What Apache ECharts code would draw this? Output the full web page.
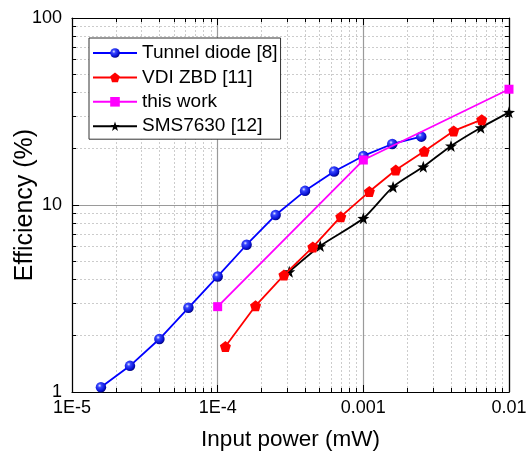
<!DOCTYPE html>
<html><head><meta charset="utf-8">
<script src="https://cdn.jsdelivr.net/npm/echarts@6/dist/echarts.min.js"></script>
<style>html,body{margin:0;padding:0;background:#fff}#c{width:530px;height:452px}</style>
</head><body><div id="c"></div>
<script>
// ---- data ----
const tunnelX = [1.58e-5, 2.5e-5, 3.98e-5, 6.3e-5, 1e-4, 1.58e-4, 2.5e-4, 3.98e-4, 6.3e-4, 1e-3, 1.58e-3, 2.5e-3];
const tunnelY = [1.06, 1.38, 1.92, 2.82, 4.15, 6.13, 8.84, 11.9, 15.1, 18.3, 21.2, 23.2];
const vdiX = [1.13e-4, 1.82e-4, 2.85e-4, 4.5e-4, 7e-4, 1.1e-3, 1.67e-3, 2.62e-3, 4.17e-3, 6.5e-3];
const vdiY = [1.75, 2.89, 4.22, 5.96, 8.66, 11.8, 15.4, 19.4, 24.9, 28.6];
const thisX = [1e-4, 1e-3, 1e-2];
const thisY = [2.86, 17.4, 41.6];
const smsX = [3.1e-4, 5.06e-4, 1e-3, 1.6e-3, 2.58e-3, 4e-3, 6.4e-3, 1e-2];
const smsY = [4.4, 6.04, 8.49, 12.5, 16.0, 20.7, 25.9, 31.3];
const seriesNames = ['Tunnel diode [8]', 'VDI ZBD [11]', 'this work', 'SMS7630 [12]'];
const xTickLabels = ['1E-5', '1E-4', '0.001', '0.01'];
const yTickLabels = ['1', '10', '100'];
const xTitle = 'Input power (mW)';
const yTitle = 'Efficiency (%)';

const X_MIN = 1e-5, X_MAX = 1e-2, Y_MIN = 1, Y_MAX = 100;
function minorVals(lo, hi) {
  const out = [];
  for (let d = lo; d < hi; d *= 10) for (let k = 2; k <= 9; k++) out.push(d * k);
  return out;
}
const xMinor = minorVals(X_MIN, X_MAX);
const yMinor = minorVals(Y_MIN, Y_MAX);
const zip = (a, b) => a.map((v, i) => [v, b[i]]);

const FONT = '"Liberation Sans", Arial, sans-serif';
const axisLineStyle = { show: true, onZero: false, lineStyle: { color: '#000', width: 1.2 } };

function xAxisDef(pos, minor, labels) {
  return {
    type: 'log', logBase: 10, min: X_MIN, max: X_MAX, position: pos,
    axisLine: minor ? { show: false } : axisLineStyle,
    axisTick: minor ? { show: true, inside: true, length: 4, customValues: xMinor, lineStyle: { color: '#000' } }
                    : { show: true, inside: true, length: 7, lineStyle: { color: '#000' } },
    axisLabel: labels ? {
      show: true, fontSize: 18, color: '#000', fontFamily: FONT, margin: 7,
      formatter: v => xTickLabels[Math.round(Math.log10(v / X_MIN))]
    } : { show: false },
    splitLine: minor ? { show: pos === 'bottom', lineStyle: { color: '#cccccc', type: [2, 2], width: 1 } }
                     : { show: pos === 'bottom', lineStyle: { color: '#9a9a9a', width: 1.2 } },
    name: labels ? xTitle : '', nameLocation: 'middle', nameGap: 36, nameMoveOverlap: false,
    nameTextStyle: { fontSize: 22.5, color: '#000', fontFamily: FONT },
    axisPointer: { show: false }, z: minor ? 1 : 2
  };
}
function yAxisDef(pos, minor, labels) {
  return {
    type: 'log', logBase: 10, min: Y_MIN, max: Y_MAX, position: pos,
    axisLine: minor ? { show: false } : axisLineStyle,
    axisTick: minor ? { show: true, inside: true, length: 4, customValues: yMinor, lineStyle: { color: '#000' } }
                    : { show: true, inside: true, length: 7, lineStyle: { color: '#000' } },
    axisLabel: labels ? {
      show: true, fontSize: 18, color: '#000', fontFamily: FONT, margin: 10,
      formatter: v => yTickLabels[Math.round(Math.log10(v / Y_MIN))]
    } : { show: false },
    splitLine: minor ? { show: pos === 'left', lineStyle: { color: '#cccccc', type: [2, 2], width: 1 } }
                     : { show: pos === 'left', lineStyle: { color: '#9a9a9a', width: 1.2 } },
    name: labels ? yTitle : '', nameLocation: 'middle', nameGap: 34, nameMoveOverlap: false,
    nameTextStyle: { fontSize: 25, color: '#000', fontFamily: FONT },
    axisPointer: { show: false }, z: minor ? 1 : 2
  };
}

const sphere = {
  type: 'radial', x: 0.38, y: 0.35, r: 0.7,
  colorStops: [{ offset: 0, color: '#e8ecff' }, { offset: 0.25, color: '#3a48ff' }, { offset: 0.7, color: '#0a14d8' }, { offset: 1, color: '#000070' }]
};
const pentagon = 'path://M0,-10L9.51,-3.09L5.88,8.09L-5.88,8.09L-9.51,-3.09Z';
const star = 'path://M0,-10L2.35,-3.24L9.51,-3.09L3.8,1.24L5.88,8.09L0,4L-5.88,8.09L-3.8,1.24L-9.51,-3.09L-2.35,-3.24Z';

const chart = echarts.init(document.getElementById('c'), null, { renderer: 'canvas' });
chart.setOption({
  animation: false,
  backgroundColor: '#fff',
  textStyle: { fontFamily: FONT },
  grid: { left: 72, right: 21, top: 18, bottom: 60, containLabel: false, outerBoundsMode: 'none' },
  xAxis: [xAxisDef('bottom', false, true), xAxisDef('bottom', true, false), xAxisDef('top', false, false), xAxisDef('top', true, false)],
  yAxis: [yAxisDef('left', false, true), yAxisDef('left', true, false), yAxisDef('right', false, false), yAxisDef('right', true, false)],
  legend: {
    orient: 'vertical', left: 89, top: 38,
    data: seriesNames,
    itemWidth: 44, itemHeight: 12, itemGap: 4.4,
    padding: [5, 3, 3, 3],
    borderColor: '#333', borderWidth: 1, backgroundColor: '#fff',
    textStyle: { fontSize: 19, color: '#000', fontFamily: FONT, lineHeight: 20 },
    z: 10
  },
  series: [
    {
      name: seriesNames[3], type: 'line', data: zip(smsX, smsY), smooth: 0.25,
      symbol: star, symbolSize: 12, clip: true,
      lineStyle: { color: '#000', width: 1.8 }, itemStyle: { color: '#000' }, z: 3
    },
    {
      name: seriesNames[0], type: 'line', data: zip(tunnelX, tunnelY),
      symbol: 'circle', symbolSize: 10.5, clip: true,
      lineStyle: { color: '#0000ff', width: 1.8 }, itemStyle: { color: sphere }, color: '#0000ff', z: 4
    },
    {
      name: seriesNames[1], type: 'line', data: zip(vdiX, vdiY),
      symbol: pentagon, symbolSize: 11, clip: true,
      lineStyle: { color: '#ff0000', width: 1.8 }, itemStyle: { color: '#ff0000' }, z: 5
    },
    {
      name: seriesNames[2], type: 'line', data: zip(thisX, thisY),
      symbol: 'rect', symbolSize: 9, clip: true,
      lineStyle: { color: '#ff00ff', width: 1.8 }, itemStyle: { color: '#ff00ff' }, z: 6
    }
  ]
});
</script></body></html>
